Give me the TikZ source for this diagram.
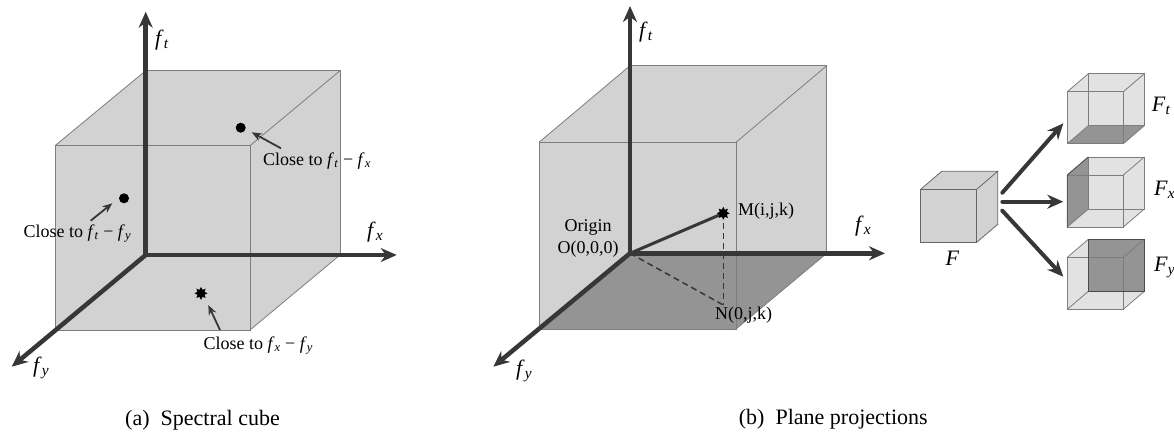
\documentclass[tikz,border=0pt]{standalone}
\usepackage{fontspec}
\setmainfont{Liberation Serif}
\usetikzlibrary{arrows.meta,shapes.geometric}
\definecolor{cubefill}{RGB}{210,210,210}
\definecolor{edgegray}{RGB}{125,125,125}
\definecolor{axisgray}{RGB}{55,55,55}
\definecolor{darkface}{RGB}{148,148,148}
\definecolor{lightfill}{RGB}{226,226,226}
\newcommand{\var}[2]{\textit{#1}\textsubscript{\textit{#2}}}
\begin{document}
\begin{tikzpicture}[x=1pt,y=-1pt,
  axis/.style={line width=4.5pt, draw=axisgray, line join=miter},
  tipend/.style={-{Stealth[length=16pt,width=14pt]}},
  tipboth/.style={{Stealth[length=16pt,width=14pt]}-{Stealth[length=16pt,width=14pt]}},
  pointer/.style={line width=1.8pt, draw=axisgray, -{Stealth[length=10pt,width=8pt]}},
  edge/.style={draw=edgegray, line width=0.8pt},
  dot/.style={circle, fill=black, inner sep=0pt, minimum size=10pt},
  starpt/.style={star, star points=8, star point ratio=1.7, fill=black, inner sep=0pt, minimum size=13pt},
  lbl/.style={font=\fontsize{18}{20}\selectfont, inner sep=0pt},
  axl/.style={font=\fontsize{22}{24}\selectfont, inner sep=0pt},
  capt/.style={font=\fontsize{22}{24}\selectfont, inner sep=0pt}
]
\useasboundingbox (0,0) rectangle (1174,432);

% ================= (a) Spectral cube =================
\coordinate (aO) at (145.7,255);
\coordinate (aBTL) at (145.7,70.7);
\coordinate (aBTR) at (340,70.7);
\coordinate (aBBR) at (340,255);
\coordinate (aFTL) at (55,145.7);
\coordinate (aFTR) at (250,145.7);
\coordinate (aFBR) at (250,330);
\coordinate (aFBL) at (55,330);
\coordinate (aTt) at (145.7,11.7);
\coordinate (aTx) at (396.7,255);
\coordinate (aTy) at (11.7,366.7);

\fill[cubefill] (aBTL)--(aBTR)--(aBBR)--(aFBR)--(aFBL)--(aFTL)--cycle;
\draw[edge] (aFTL) rectangle (aFBR);
\draw[edge] (aBTL)--(aBTR)--(aBBR);
\draw[edge] (aFTL)--(aBTL) (aFTR)--(aBTR) (aFBR)--(aBBR);

\draw[axis,tipboth] (aTt)--(aO)--(aTx);
\draw[axis,tipend] (aO)--(aTy);

\node[axl, anchor=base west] (aLt) at (155,45) {\var{f}{t}};
\node[axl, anchor=base west] (aLx) at (367,237) {\var{f}{x}};
\node[axl, anchor=base west] (aLy) at (33,372) {\var{f}{y}};

\node[dot] (d1) at (240.7,127.7) {};
\node[dot] (d2) at (124,198.3) {};
\node[starpt] (s1) at (201,293.3) {};

\coordinate (p1s) at (281,148.3);
\coordinate (p1e) at (251.7,132.3);
\coordinate (p2s) at (90.7,220.7);
\coordinate (p2e) at (112.3,203.3);
\coordinate (p3s) at (220,330);
\coordinate (p3e) at (208.3,305);
\draw[pointer] (p1s)--(p1e);
\draw[pointer] (p2s)--(p2e);
\draw[pointer] (p3s)--(p3e);

\node[lbl, anchor=base west] (c1) at (263,165) {Close to \var{f}{t} − \var{f}{x}};
\node[lbl, anchor=base west] (c2) at (23.3,237.3) {Close to \var{f}{t} − \var{f}{y}};
\node[lbl, anchor=base west] (c3) at (203.3,349.3) {Close to \var{f}{x} − \var{f}{y}};

\node[capt, anchor=base] (capa) at (202.5,425) {(a)\enspace Spectral cube};

% ================= (b) Plane projections =================
\coordinate (bO) at (630,253.3);
\coordinate (bBTL) at (630,65.7);
\coordinate (bBTR) at (826.7,65.7);
\coordinate (bBBR) at (826.7,253.3);
\coordinate (bFTL) at (539,142.3);
\coordinate (bFTR) at (736,142.3);
\coordinate (bFBR) at (736,329);
\coordinate (bFBL) at (539,329);
\coordinate (bTt) at (630,6);
\coordinate (bTx) at (885,253.3);
\coordinate (bTy) at (493.3,366.7);

\fill[cubefill] (bBTL)--(bBTR)--(bBBR)--(bFBR)--(bFBL)--(bFTL)--cycle;
\fill[darkface] (bO)--(bBBR)--(bFBR)--(bFBL)--cycle;
\draw[edge] (bFTL) rectangle (bFBR);
\draw[edge] (bBTL)--(bBTR)--(bBBR);
\draw[edge] (bFTL)--(bBTL) (bFTR)--(bBTR) (bFBR)--(bBBR);

\draw[axis,tipboth] (bTt)--(bO)--(bTx);
\draw[axis,tipend] (bO)--(bTy);

\node[axl, anchor=base west] (bLt) at (639,37) {\var{f}{t}};
\node[axl, anchor=base west] (bLx) at (855,231) {\var{f}{x}};
\node[axl, anchor=base west] (bLy) at (516,375) {\var{f}{y}};

\coordinate (N) at (723.3,305);
\draw[line width=3pt, draw=axisgray] (bO)--(723.3,213.3) coordinate (Mc);
\draw[line width=1.5pt, draw=axisgray, dash pattern=on 6pt off 4pt] (bO)--(N);
\draw[line width=1.5pt, draw=axisgray, dash pattern=on 6pt off 4pt] (Mc)--(N);
\node[starpt] (M) at (Mc) {};

\node[lbl, anchor=base west] (Mlab) at (738,215) {M(i,j,k)};
\node[lbl, anchor=base west] (Nlab) at (715,319.3) {N(0,j,k)};
\node[lbl, anchor=base] (orig1) at (588,231) {Origin};
\node[lbl, anchor=base] (orig2) at (588,253) {O(0,0,0)};

\node[capt, anchor=base] (capb) at (833.3,424) {(b)\enspace Plane projections};

% ---- cube F ----
\begin{scope}[shift={(920.7,189.3)}]
  \fill[cubefill] (0,0)--(21,-18)--(77,-18)--(77,35)--(56,53)--(0,53)--cycle;
  \draw[edge, draw=black!60] (0,0) rectangle (56,53);
  \draw[edge, draw=black!60] (0,0)--(21,-18)--(77,-18)--(56,0) (77,-18)--(77,35)--(56,53);
\end{scope}
\node[axl, anchor=base] (Flab) at (952.5,265) {\textit{F}};

% ---- cube F_t ----
\begin{scope}[shift={(1067.3,91.7)}]
  \fill[lightfill] (0,0)--(21,-18)--(77,-18)--(77,34)--(56,52)--(0,52)--cycle;
  \fill[darkface] (0,52)--(56,52)--(77,34)--(21,34)--cycle;
  \draw[edge] (0,0) rectangle (56,52);
  \draw[edge] (21,-18) rectangle (77,34);
  \draw[edge] (0,0)--(21,-18) (56,0)--(77,-18) (56,52)--(77,34) (0,52)--(21,34);
\end{scope}
\node[axl, anchor=base west] (Ftlab) at (1151.7,111.7) {\var{F}{t}};

% ---- cube F_x ----
\begin{scope}[shift={(1067.3,175)}]
  \fill[lightfill] (0,0)--(21,-18)--(77,-18)--(77,34)--(56,52)--(0,52)--cycle;
  \fill[darkface] (0,0)--(21,-18)--(21,34)--(0,52)--cycle;
  \draw[edge] (0,0) rectangle (56,52);
  \draw[edge] (21,-18) rectangle (77,34);
  \draw[edge] (0,0)--(21,-18) (56,0)--(77,-18) (56,52)--(77,34) (0,52)--(21,34);
  \draw[edge, draw=black!70] (0,0)--(21,-18) (0,0)--(0,52);
\end{scope}
\node[axl, anchor=base west] (Fxlab) at (1154,195) {\var{F}{x}};

% ---- cube F_y ----
\begin{scope}[shift={(1067.3,257.3)}]
  \fill[lightfill] (0,0)--(21,-18)--(77,-18)--(77,34)--(56,52)--(0,52)--cycle;
  \fill[darkface] (21,-18) rectangle (77,34);
  \draw[edge] (0,0) rectangle (56,52);
  \draw[edge] (0,0)--(21,-18) (56,0)--(77,-18) (56,52)--(77,34) (0,52)--(21,34);
  \draw[edge, draw=black!70] (21,-18) rectangle (77,34);
\end{scope}
\node[axl, anchor=base west] (Fylab) at (1154,271.7) {\var{F}{y}};

% ---- arrows from F ----
\coordinate (fs1) at (1002.3,192.7);
\coordinate (fe1) at (1063.3,123.3);
\coordinate (fs2) at (1002.3,201.7);
\coordinate (fe2) at (1063.3,201.7);
\coordinate (fs3) at (1002.3,210.7);
\coordinate (fe3) at (1063.3,276.7);
\draw[axis,line width=4pt,line cap=round,tipend] (fs1)--(fe1);
\draw[axis,line width=4pt,line cap=round,tipend] (fs2)--(fe2);
\draw[axis,line width=4pt,line cap=round,tipend] (fs3)--(fe3);
\end{tikzpicture}
\end{document}
